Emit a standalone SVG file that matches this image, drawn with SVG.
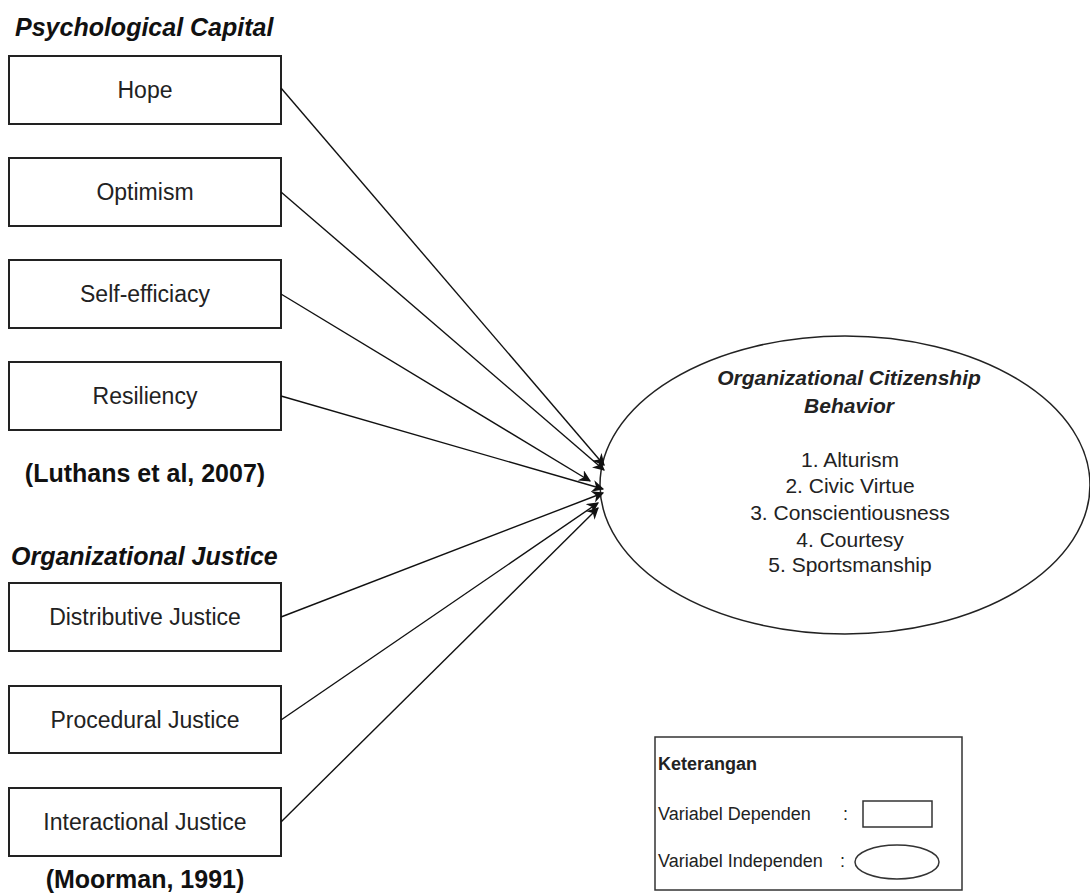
<svg xmlns="http://www.w3.org/2000/svg" width="1090" height="895" viewBox="0 0 1090 895">
<style>
.box{fill:#fff;stroke:#222;stroke-width:2}
.lbl{font-family:"Liberation Sans",Arial,sans-serif;font-size:23px;fill:#222;text-anchor:middle}
.el{font-family:"Liberation Sans",Arial,sans-serif;font-size:21px;fill:#222;text-anchor:middle}
.hd{font-family:"Liberation Sans",Arial,sans-serif;font-size:25px;font-weight:bold;fill:#111}
.conn{stroke:#111;stroke-width:1.4;fill:none;marker-end:url(#ah)}
.lg{font-family:"Liberation Sans",Arial,sans-serif;font-size:18px;fill:#222}
</style>
<defs>
<marker id="ah" viewBox="0 0 10 10" refX="9" refY="5" markerWidth="12" markerHeight="12" markerUnits="userSpaceOnUse" orient="auto">
<path d="M0,0 L10,5 L0,10 L3,5 Z" fill="#111"/>
</marker>
</defs>
<rect width="1090" height="895" fill="#fff"/>
<text class="hd" x="15" y="36" font-style="italic">Psychological Capital</text>
<g id="hope"><rect class="box" x="9" y="56" width="272" height="68"/><text class="lbl" x="145" y="98">Hope</text></g>
<g id="optimism"><rect class="box" x="9" y="158" width="272" height="68"/><text class="lbl" x="145" y="200">Optimism</text></g>
<g id="selfefficacy"><rect class="box" x="9" y="260" width="272" height="68"/><text class="lbl" x="145" y="302">Self-efficiacy</text></g>
<g id="resiliency"><rect class="box" x="9" y="362" width="272" height="68"/><text class="lbl" x="145" y="404">Resiliency</text></g>
<text class="hd" x="145" y="482" text-anchor="middle">(Luthans et al, 2007)</text>
<text class="hd" x="11" y="565" font-style="italic">Organizational Justice</text>
<g id="distributive"><rect class="box" x="9" y="583" width="272" height="68"/><text class="lbl" x="145" y="625">Distributive Justice</text></g>
<g id="procedural"><rect class="box" x="9" y="686" width="272" height="67"/><text class="lbl" x="145" y="728">Procedural Justice</text></g>
<g id="interactional"><rect class="box" x="9" y="788" width="272" height="68"/><text class="lbl" x="145" y="830">Interactional Justice</text></g>
<text class="hd" x="145" y="888" text-anchor="middle">(Moorman, 1991)</text>
<g id="ocb">
<ellipse cx="845" cy="485" rx="245" ry="149" fill="#fff" stroke="#222" stroke-width="1.5"/>
<text class="el" x="849" y="385" font-weight="bold" font-style="italic">Organizational Citizenship</text>
<text class="el" x="849" y="413" font-weight="bold" font-style="italic">Behavior</text>
<text class="el" x="850" y="467">1. Alturism</text>
<text class="el" x="850" y="493">2. Civic Virtue</text>
<text class="el" x="850" y="520">3. Conscientiousness</text>
<text class="el" x="850" y="547">4. Courtesy</text>
<text class="el" x="850" y="572">5. Sportsmanship</text>
</g>
<g id="connectors">
<line class="conn" x1="281" y1="88" x2="604" y2="465"/>
<line class="conn" x1="281" y1="192" x2="604" y2="470"/>
<line class="conn" x1="281" y1="294" x2="590" y2="481"/>
<line class="conn" x1="281" y1="396" x2="603" y2="489"/>
<line class="conn" x1="281" y1="617" x2="603" y2="493"/>
<line class="conn" x1="281" y1="720" x2="598" y2="503"/>
<line class="conn" x1="281" y1="822" x2="598" y2="508"/>
</g>
<g id="legend">
<rect x="655" y="737" width="307" height="153" fill="#fff" stroke="#333" stroke-width="1.5"/>
<text class="lg" x="658" y="770" font-weight="bold">Keterangan</text>
<text class="lg" x="658" y="820">Variabel Dependen</text>
<text class="lg" x="843" y="820">:</text>
<rect x="863" y="801" width="69" height="26" fill="#fff" stroke="#333" stroke-width="1.5"/>
<text class="lg" x="658" y="867">Variabel Independen</text>
<text class="lg" x="840" y="867">:</text>
<ellipse cx="897" cy="862" rx="42" ry="17" fill="#fff" stroke="#333" stroke-width="1.5"/>
</g>
</svg>
